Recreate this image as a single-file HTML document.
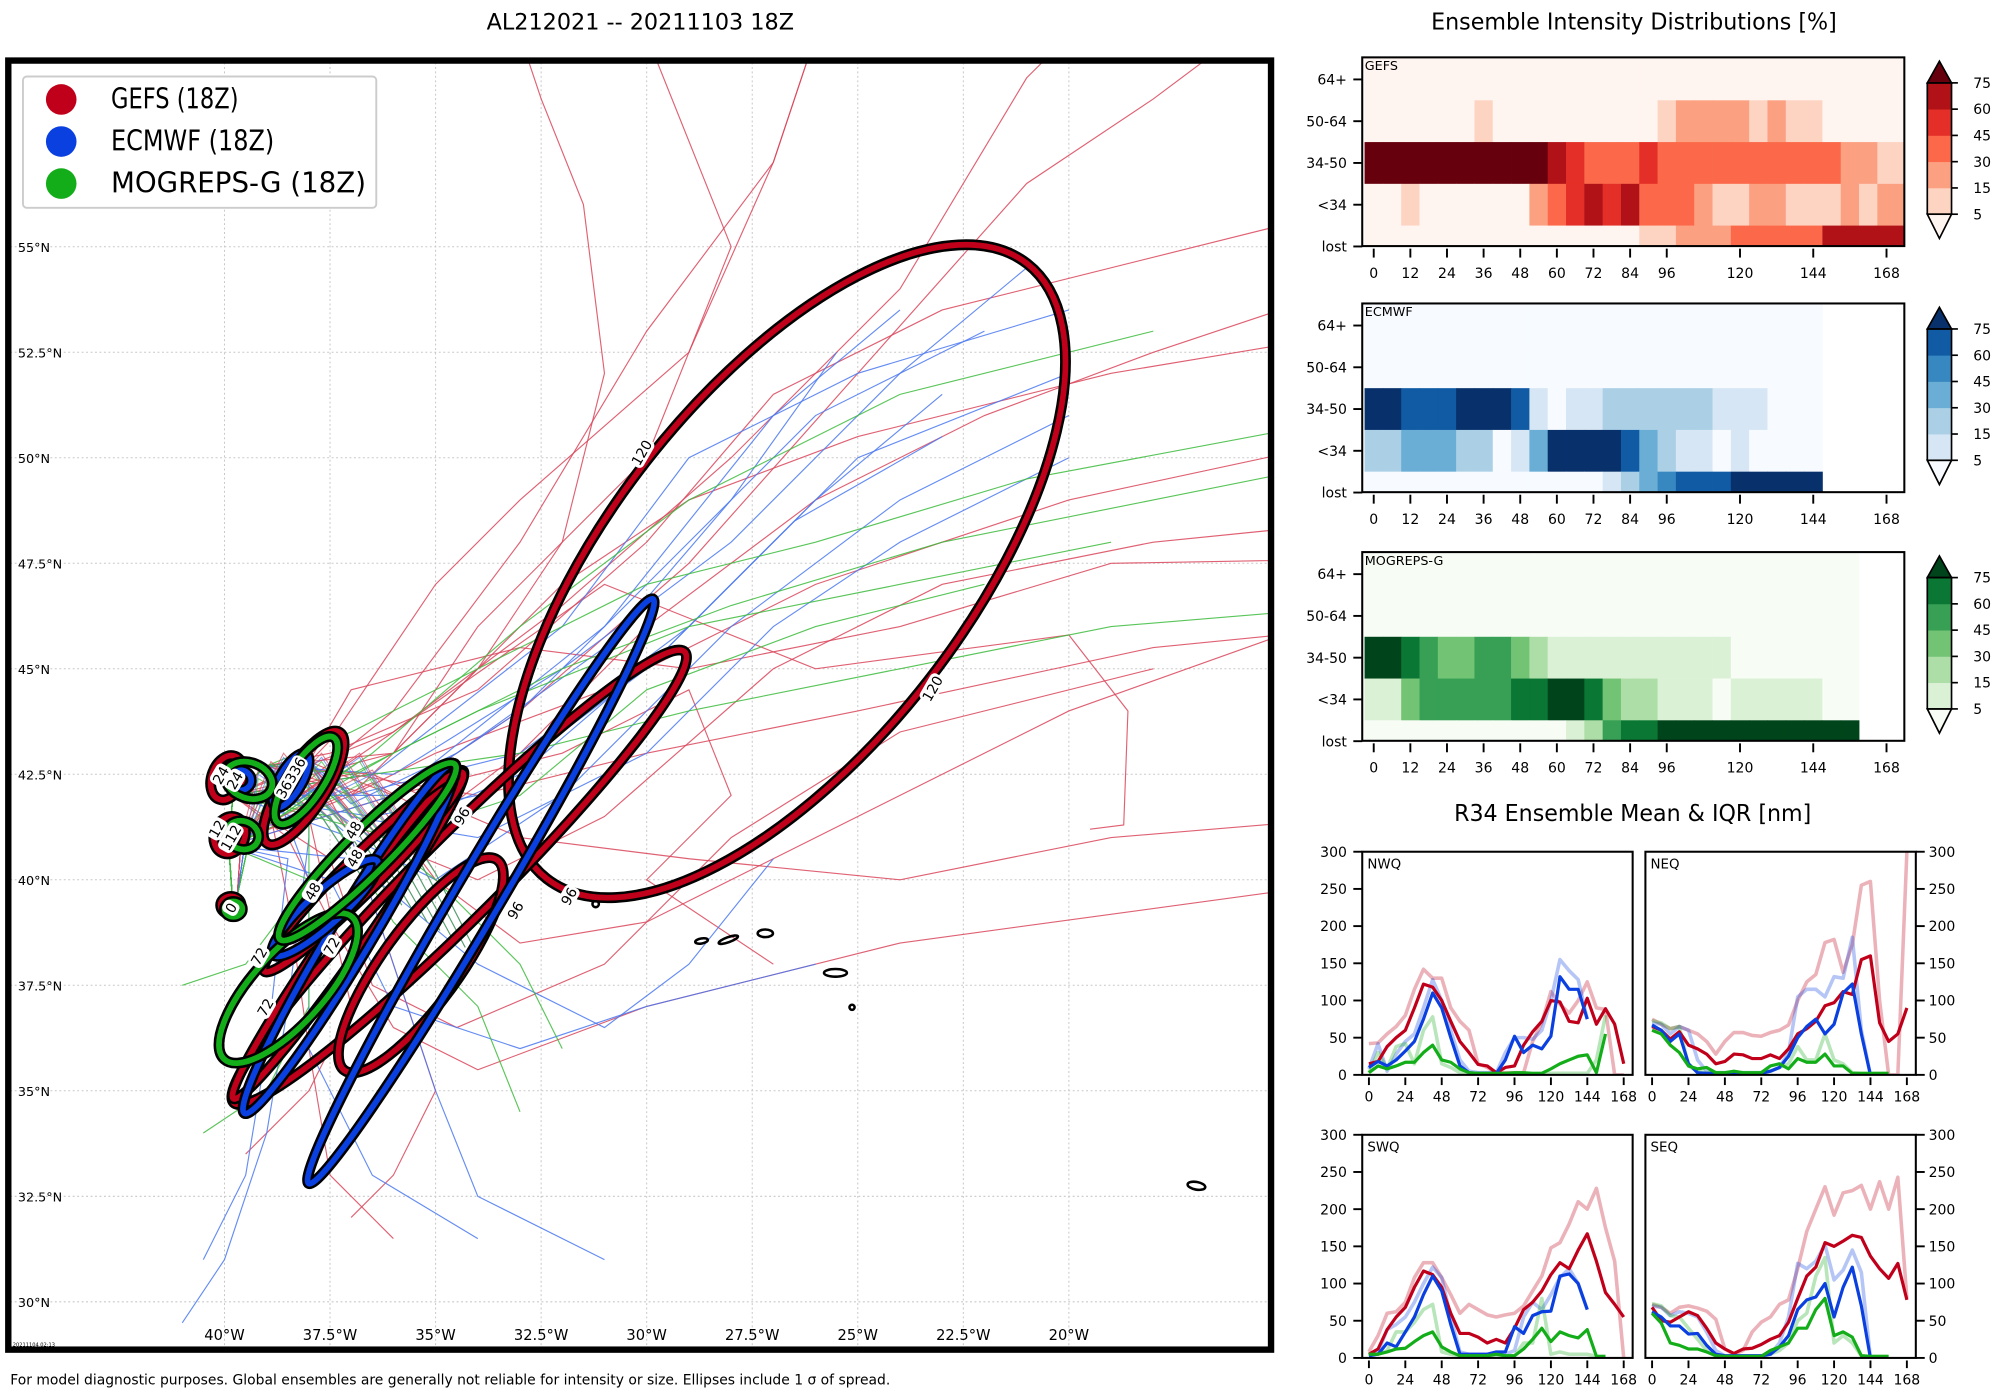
<!DOCTYPE html>
<html><head><meta charset="utf-8">
<style>
html,body{margin:0;padding:0;background:#fff;}
svg{display:block;font-family:"DejaVu Sans","Liberation Sans",sans-serif;}
</style></head>
<body>
<svg id="root" width="2000" height="1400" viewBox="0 0 1568 1098" preserveAspectRatio="none" xmlns="http://www.w3.org/2000/svg">
<defs><clipPath id="mapclip"><rect x="8" y="49" width="987" height="1008"/></clipPath></defs>
<rect x="0" y="0" width="1568" height="1098" fill="#fff"/>
<text x="502" y="23" font-size="17.5" text-anchor="middle" textLength="241" lengthAdjust="spacingAndGlyphs">AL212021 -- 20211103 18Z</text>
<text x="1281" y="23" font-size="18" text-anchor="middle" textLength="318" lengthAdjust="spacingAndGlyphs">Ensemble Intensity Distributions [%]</text>
<text x="1280" y="644" font-size="18" text-anchor="middle" textLength="280" lengthAdjust="spacingAndGlyphs">R34 Ensemble Mean &amp; IQR [nm]</text>
<text x="8" y="1086" font-size="11" textLength="690" lengthAdjust="spacingAndGlyphs">For model diagnostic purposes. Global ensembles are generally not reliable for intensity or size. Ellipses include 1 σ of spread.</text>
<g id="map"></g>
<g id="heat"></g>
<g id="r34"></g>
</svg>
<script>
const NS='http://www.w3.org/2000/svg';
function mk(tag,attrs,parent,txt){const e=document.createElementNS(NS,tag);for(const k in attrs)e.setAttribute(k,attrs[k]);if(txt!==undefined)e.textContent=txt;parent.appendChild(e);return e;}

/* ---------------- MAP DATA ---------------- */
const latTicks=[55,52.5,50,47.5,45,42.5,40,37.5,35,32.5,30];
const lonTicks=[-40,-37.5,-35,-32.5,-30,-27.5,-25,-22.5,-20];
const trackStart=[[-39.8,39.4],[-39.9,40.8],[-39.8,42.0],[-39.0,42.7],[-38.0,42.8]];
const gefsTracks=[
[[-36.5,42.3],[-35,41.5],[-33,43],[-30,46],[-26,49],[-22,51],[-18,52.5],[-15,53.5],[-13,54]],
[[-36,43],[-34,45],[-32,48],[-31,52],[-31.5,56],[-32.5,58.5],[-33,60]],
[[-36.5,42],[-35,40],[-33,38.5],[-30,39],[-26,41],[-20,44],[-13,46.5]],
[[-37,41],[-36,38],[-35,35],[-36,33],[-37,32]],
[[-36,42],[-33,44],[-29,47.5],[-25,52],[-21,56.5],[-18,58.5],[-16,60]],
[[-36,43.5],[-32,46.5],[-28,50],[-24,54],[-21,59],[-20,60]],
[[-37,42],[-35,43],[-31,44.5],[-26,47],[-20,49],[-13,50.5]],
[[-36.5,41],[-34,40],[-31,41.5],[-27,45],[-23,47],[-18,48],[-13,48.5]],
[[-37.5,43.3],[-35,47],[-33,49],[-29,52.5],[-27,57],[-26,60]],
[[-37,42.5],[-34,42],[-30,43],[-25,44],[-18,45.5],[-13,46]],
[[-38,41.5],[-37,37],[-38,35],[-39.5,33.5]],
[[-36,42],[-32,43],[-29,44.5],[-28,42],[-30,40],[-27,38]],
[[-36,44],[-33,48],[-30,53],[-27,57],[-26,60]],
[[-38,42.8],[-37,44.5],[-33,45.5],[-29,45],[-24,46],[-19,47.5],[-13,47.6]],
[[-36.5,42.5],[-33,41],[-29,40.5],[-24,40],[-19,41],[-13,41.5]],
[[-36,43],[-34,46],[-30,50],[-28,55],[-30,60]],
[[-36,43.5],[-31,47],[-26,45],[-20,45.8],[-18.6,44],[-18.7,41.3],[-19.5,41.2]],
[[-38.5,41],[-37.5,39],[-36,36.5],[-34,35.5],[-30,37],[-24,38.5],[-13,40]],
[[-37.5,43],[-34,44.5],[-30,48],[-27,51.5],[-23,53.5],[-17,55],[-13,56]],
[[-39,42],[-38.5,39.5],[-38,36],[-37.5,33],[-36,31.5]],
[[-37,42],[-35,44],[-32,47],[-29,49],[-25,50.5],[-19,52],[-13,53]],
[[-37.5,40.5],[-36.5,37.5],[-34.5,36.5],[-31,38],[-28,41],[-24,43.5],[-18,45]]
];
const ecmwfTracks=[
[[-36,42],[-33,44],[-30,47],[-26,51],[-22,53]],
[[-36.5,41.5],[-34,42],[-30,45],[-26,49],[-23,51.5]],
[[-37,41],[-35,40],[-32,42],[-28,46],[-24,49],[-20,51]],
[[-38,41],[-38.5,37],[-39,34],[-40,31],[-41,29.5]],
[[-38.5,40.5],[-39,36],[-39.5,33],[-40.5,31]],
[[-37,41],[-36,38],[-35,35],[-34,32.5],[-31,31]],
[[-36,42.5],[-32,45],[-28,48],[-24,52],[-21,54.5]],
[[-37,41.5],[-34,41],[-30,43],[-27,46],[-24,48],[-20,50]],
[[-37.5,40],[-36,37],[-33,36],[-30,37],[-26,38]],
[[-36,42],[-31,46],[-27,51],[-24,53.5]],
[[-38,40],[-38,36],[-36.5,33],[-34,31.5]],
[[-37,42],[-33,43],[-29,46],[-25,50],[-20,52]],
[[-37,40.5],[-34,38],[-31,36.5],[-29,38],[-27,40.5]],
[[-36.5,42.5],[-32,46],[-29,50],[-25,52],[-20,53.5]],
[[-36.5,41],[-33,42.5],[-29.5,45.5],[-26.5,48.5],[-23,50.5]],
[[-37,41.8],[-34.5,43],[-31,45.5],[-28,49],[-25.5,52.5]]
];
const mogrepsTracks=[
[[-36,43],[-32,45],[-28,46.5],[-23,48],[-18,49],[-13,50]],
[[-36.5,42.5],[-33,43],[-29,44],[-24,45],[-19,46],[-13,46.5]],
[[-37,43.5],[-34,45],[-30,47],[-26,48],[-21,49.5],[-13,51]],
[[-37.5,42],[-35,40],[-33,38],[-32,36]],
[[-38,40],[-39.5,38],[-41,37.5]],
[[-36,41],[-33,42],[-30,44.5],[-26,46],[-22,47]],
[[-37,42.5],[-34,44],[-29,46],[-24,47],[-19,48]],
[[-38,41],[-38,37],[-39,35],[-40.5,34]],
[[-36.5,43],[-33,46],[-29,49],[-24,51.5],[-18,53]],
[[-37.5,41.5],[-36,39],[-34,37],[-33,34.5]]
];
/* ellipses: centre x,y (display px), semi-axes, rotation deg */
const ellipseModels=['gefs','gefs','gefs','gefs','gefs','gefs','gefs','gefs','gefs','ecmwf','ecmwf','ecmwf','ecmwf','ecmwf','mogreps','mogreps','mogreps','mogreps','mogreps','mogreps'];
const ellipseCx=[617,360,273,330,285,238,178,180,181,377,274,255,228,188,226,288,240,195,190,183];
const ellipseCy=[448,688,733,757,684,618,610,655,710,699,736,712,612,612,775,668,612,612,655,713];
const ellipseRx=[306,250,157,102,110,52,18,15,8,266,160,55,24,9,75,97,40,14,11,7];
const ellipseRy=[140,32,14,30,14,17,12,12,7,18,16,13,9,8,28,17,14,19,13,6];
const ellipseRot=[-52,-45,-55,-54,-45,-57,-70,-70,0,-59.5,-59,-42,-60,0,-48,-45,-57,-70,-70,0];
const ellipseLabels=['120','120','96','96','96','72','72','72','48','48','48','36336','24','24','12','112','0'];
const labelX=[503,731,362,404,446,203,208,260,277,278,245,228,173,184,170,181,181];
const labelY=[355,540,640,714,703,750,790,742,651,673,699,610,608,612,650,657,712];
const modelColor={gefs:'#c0001a',ecmwf:'#0a3fe0',mogreps:'#14ad1a'};
const trackColor={gefs:'#d9455a',ecmwf:'#4a78f0',mogreps:'#3cbb3c'};

function mx(lon){return 176+(lon+40)*33.1;}
function my(lat){return 690-(lat-40)*33.1;}

const map=document.getElementById('map');
latTicks.forEach(v=>{const l=mk('line',{x1:8,x2:995,y1:my(v),y2:my(v),stroke:'#c8c8c8','stroke-width':0.8,'stroke-dasharray':'1.5,2'},map);

const t=mk('text',{x:14,y:my(v)+4,'font-size':10},map,(v%1?v.toFixed(1):v)+'°N');
});
lonTicks.forEach(v=>{const l=mk('line',{x1:mx(v),x2:mx(v),y1:49,y2:1057,stroke:'#c8c8c8','stroke-width':0.8,'stroke-dasharray':'1.5,2'},map);

const t=mk('text',{x:mx(v),y:1051,'font-size':11.5,'text-anchor':'middle'},map,(v%1?(-v).toFixed(1):-v)+'°W');
});
const tg=mk('g',{'clip-path':'url(#mapclip)'},map);

function drawTracks(arr,model){arr.forEach((tr,i)=>{
 const pts=trackStart.slice(0,2+(i%4)).concat(tr).map(p=>mx(p[0]).toFixed(1)+','+my(p[1]).toFixed(1)).join(' ');
 const p=mk('polyline',{points:pts,fill:'none',stroke:trackColor[model],'stroke-width':0.9,opacity:0.85},tg);
 });}
drawTracks(gefsTracks,'gefs');drawTracks(ecmwfTracks,'ecmwf');drawTracks(mogrepsTracks,'mogreps');
const bundleLon=[-39.2,-38.9,-38.6,-38.3,-38.0,-37.7,-37.4,-37.1,-36.8,-36.5];
bundleLon.forEach((lo,i)=>{['gefs','ecmwf','mogreps'].forEach((m,j)=>{
 const pts=[[-39.7,39.6],[-39.6+j*0.1,41],[lo,42.6-j*0.1+(i%3)*0.2],[lo+1.5,41.5-i*0.15],[lo+2.5,40-i*0.2]].map(p=>mx(p[0]).toFixed(1)+','+my(p[1]).toFixed(1)).join(' ');
 const p=mk('polyline',{points:pts,fill:'none',stroke:trackColor[m],'stroke-width':0.8,opacity:0.7},tg);
 });});
[[550,738,5,2,-10],[571,737,8,2,-20],[600,732,6,3,0],[655,763,9,3,0],[668,790,2,2,0],[938,930,7,3,10],[467,709,2.5,2.5,0]].forEach(c=>{
 const e=mk('ellipse',{cx:c[0],cy:c[1],rx:c[2],ry:c[3],transform:`rotate(${c[4]} ${c[0]} ${c[1]})`,fill:'none',stroke:'#000','stroke-width':2},tg);
 });
const eg=mk('g',{'clip-path':'url(#mapclip)'},map);

ellipseCx.forEach((cx,i)=>{const a={cx:cx,cy:ellipseCy[i],rx:ellipseRx[i],ry:ellipseRy[i],transform:`rotate(${ellipseRot[i]} ${cx} ${ellipseCy[i]})`,fill:'none'};
 const b=mk('ellipse',Object.assign({},a,{stroke:'#000','stroke-width':8.5}),eg);
 
 const c=mk('ellipse',Object.assign({},a,{stroke:modelColor[ellipseModels[i]],'stroke-width':4.5}),eg);
 });
ellipseLabels.forEach((s,i)=>{const g=mk('g',{transform:`translate(${labelX[i]} ${labelY[i]}) rotate(-60)`},eg);
 
 const w=s.length*6.5+4;mk('rect',{x:-w/2,y:-6.5,width:w,height:13,rx:4,fill:'#fff'},g);
 mk('text',{x:0,y:4,'font-size':11,'text-anchor':'middle'},g,s);});
const fr=mk('rect',{x:6.5,y:47.5,width:990,height:1011,fill:'none',stroke:'#000','stroke-width':5},map);

const st=mk('text',{x:10,y:1056,'font-size':4},map,'20211104 02:13');

const lg=mk('g',{},map);
mk('rect',{x:18,y:60,width:277,height:103,rx:3,fill:'#fff',stroke:'#ccc','stroke-width':1.5},lg);
[['GEFS (18Z)','gefs',100],['ECMWF (18Z)','ecmwf',128],['MOGREPS-G (18Z)','mogreps',200]].forEach((e,i)=>{
 const g=mk('g',{},lg);
 mk('circle',{cx:48,cy:78+i*33,r:12,fill:modelColor[e[1]]},g);
 mk('text',{x:87,y:85+i*33,'font-size':22,textLength:e[2],lengthAdjust:'spacingAndGlyphs'},g,e[0]);});

/* ---------------- HEATMAP DATA ---------------- */
const heatRows=['64+','50-64','34-50','<34','lost'];
const heatTicks=[0,12,24,36,48,60,72,84,96,120,144,168];
const cbarTicks=[5,15,30,45,60,75];
const gefsHeat=[
[2,2,2,2,2,2,2,2,2,2,2,2,2,2,2,2,2,2,2,2,2,2,2,2,2,2,2,2,2],
[2,2,2,2,2,2,10,2,2,2,2,2,2,2,2,2,10,22,22,22,22,10,22,10,10,2,2,2,2],
[85,85,85,85,85,85,85,85,85,85,68,52,38,38,38,52,38,38,38,38,38,38,38,38,38,38,22,22,10],
[2,2,10,2,2,2,2,2,2,22,38,52,68,52,68,38,38,38,22,10,10,22,22,10,10,10,22,10,22],
[2,2,2,2,2,2,2,2,2,2,2,2,2,2,2,10,10,22,22,22,38,38,38,38,38,68,68,68,68]];
const ecmwfHeat=[
[2,2,2,2,2,2,2,2,2,2,2,2,2,2,2,2,2,2,2,2,2,2,2,2,2],
[2,2,2,2,2,2,2,2,2,2,2,2,2,2,2,2,2,2,2,2,2,2,2,2,2],
[85,85,68,68,68,85,85,85,68,10,2,10,10,22,22,22,22,22,22,10,10,10,2,2,2],
[22,22,38,38,38,22,22,2,10,38,85,85,85,85,68,38,22,10,10,2,10,2,2,2,2],
[2,2,2,2,2,2,2,2,2,2,2,2,2,10,22,38,52,68,68,68,85,85,85,85,85]];
const mogrepsHeat=[
[2,2,2,2,2,2,2,2,2,2,2,2,2,2,2,2,2,2,2,2,2,2,2,2,2,2,2],
[2,2,2,2,2,2,2,2,2,2,2,2,2,2,2,2,2,2,2,2,2,2,2,2,2,2,2],
[85,85,68,52,38,38,52,52,38,22,10,10,10,10,10,10,10,10,10,10,2,2,2,2,2,2,2],
[10,10,38,52,52,52,52,52,68,68,85,85,68,38,22,22,10,10,10,2,10,10,10,10,10,2,2],
[2,2,2,2,2,2,2,2,2,2,2,10,22,52,68,68,85,85,85,85,85,85,85,85,85,85,85]];
const palettes={
 gefs:['#fff5f0','#fdd4c2','#fca082','#fb694a','#e32f27','#b11218','#67000d'],
 ecmwf:['#f7fbff','#d6e6f4','#abd0e6','#6aaed6','#3787c0','#105ba4','#08306b'],
 mogreps:['#f7fcf5','#dbf1d6','#aedea7','#73c375','#37a055','#0b7734','#00441b']};
function lvl(v){const th=[5,15,30,45,60,75];let k=0;while(k<6&&v>=th[k])k++;return k;}
const heat=document.getElementById('heat');
const HX0=1068,HX1=1493;function hx(h){return 1077+h*2.393;}
function drawHeat(name,label,data,top){
 const g=mk('g',{},heat);
 const bot=top+148,rowH=32.75,c0=top+17.3;
 const pal=palettes[name];
 data.forEach((row,r)=>{const cy=c0+r*rowH;const y0=Math.max(top,cy-rowH/2),y1=Math.min(bot,cy+rowH/2);
  row.forEach((v,k)=>{let x0=Math.max(HX0,hx(6*k-3)),x1=hx(6*k+3);if(k==28)x1=HX1;
   const c=mk('rect',{x:x0,y:y0,width:x1-x0+0.3,height:y1-y0+0.3,fill:pal[lvl(v)]},g);
   });
  mk('line',{x1:HX0-7,x2:HX0,y1:cy,y2:cy,stroke:'#000','stroke-width':1.5},g);
  const t=mk('text',{x:HX0-12,y:cy+4,'font-size':11,'text-anchor':'end'},g,heatRows[r]);
  });
 mk('rect',{x:HX0,y:top,width:HX1-HX0,height:148,fill:'none',stroke:'#000','stroke-width':1.6},g);
 const tl=mk('text',{x:HX0+2,y:top+10,'font-size':10},g,label);
 
 heatTicks.forEach(h=>{mk('line',{x1:hx(h),x2:hx(h),y1:bot+2,y2:bot+9,stroke:'#000','stroke-width':1.5},g);
  const t=mk('text',{x:hx(h),y:bot+25,'font-size':11,'text-anchor':'middle'},g,h);
  });
 const cb=mk('g',{},g);
 const cbTop=top+20,seg=20.6,cx0=1511,cx1=1530,cbBot=cbTop+5*seg;
 for(let i=1;i<=5;i++)mk('rect',{x:cx0,y:cbBot-i*seg,width:cx1-cx0,height:seg+0.3,fill:pal[i]},cb);
 mk('polygon',{points:`${cx0},${cbTop} ${cx1},${cbTop} ${(cx0+cx1)/2},${cbTop-17}`,fill:pal[6],stroke:'#000','stroke-width':1.3},cb);
 mk('polygon',{points:`${cx0},${cbBot} ${cx1},${cbBot} ${(cx0+cx1)/2},${cbBot+19}`,fill:pal[0],stroke:'#000','stroke-width':1.3},cb);
 mk('rect',{x:cx0,y:cbTop,width:cx1-cx0,height:5*seg,fill:'none',stroke:'#000','stroke-width':1.3},cb);
 cbarTicks.forEach((v,i)=>{const y=cbBot-i*seg;mk('line',{x1:cx1,x2:cx1+5,y1:y,y2:y,stroke:'#000','stroke-width':1.3},cb);
  const t=mk('text',{x:cx1+17,y:y+4,'font-size':11},cb,v);
  });
}
drawHeat('gefs','GEFS',gefsHeat,45);
drawHeat('ecmwf','ECMWF',ecmwfHeat,238);
drawHeat('mogreps','MOGREPS-G',mogrepsHeat,433);

/* ---------------- R34 DATA ---------------- */
const r34Ticks=[0,50,100,150,200,250,300];
const r34Hours=[0,24,48,72,96,120,144,168];
const nwqGefs=[15,18,38,50,60,90,122,118,100,72,45,30,14,12,3,10,12,40,58,72,100,98,72,70,103,68,89,68,15];
const nwqGefsUp=[42,43,55,65,80,115,142,130,130,90,72,60,15,10,3,3,3,3,45,70,112,95,83,100,125,90,88,0,0];
const nwqEcmwf=[10,18,12,20,32,45,75,110,90,50,12,3,2,2,2,20,52,30,40,35,52,132,115,115,75];
const nwqEcmwfUp=[8,42,5,28,45,55,90,128,100,60,20,5,3,3,3,30,50,50,48,60,100,155,140,128,75];
const nwqMog=[3,12,8,12,17,17,30,40,20,17,8,3,2,2,2,2,3,3,2,2,8,15,20,25,27,3,55];
const nwqMogUp=[3,30,8,38,42,15,60,78,15,10,3,2,2,2,2,2,2,2,2,2,2,2,2,2,2,20,80];
const neqGefs=[65,60,48,58,40,35,28,15,18,28,27,22,22,27,22,35,55,62,72,93,97,112,108,155,160,70,45,55,90];
const neqGefsUp=[75,68,62,65,60,55,45,28,45,57,57,53,52,57,60,67,100,125,135,178,182,138,175,255,260,100,0,0,300];
const neqEcmwf=[67,60,45,55,15,3,2,2,2,2,2,2,2,5,10,25,50,65,75,55,68,110,122,55,0];
const neqEcmwfUp=[70,68,55,65,60,20,5,3,3,3,3,3,3,5,10,30,105,115,115,105,132,130,185,60,0];
const neqMog=[60,55,40,30,12,8,10,3,3,5,3,3,3,12,15,8,22,17,17,28,12,12,2,2,2,2,2];
const neqMogUp=[73,70,62,65,12,5,3,3,3,3,3,3,3,5,10,15,38,20,20,55,20,15,3,2,2,2,2];
const swqGefs=[5,12,38,55,68,95,117,112,95,60,33,33,28,20,25,20,40,65,75,90,112,128,120,145,167,130,88,72,55];
const swqGefsUp=[8,30,60,62,75,108,128,128,108,85,60,72,65,58,55,58,60,70,90,110,148,155,180,210,200,228,175,130,0];
const swqEcmwf=[3,5,20,15,35,55,85,110,90,45,5,5,5,5,8,8,42,33,57,62,63,110,113,100,65];
const swqEcmwfUp=[5,8,38,45,55,75,100,122,108,55,8,5,5,5,5,5,10,55,75,65,85,108,120,100,65];
const swqMog=[5,5,8,12,13,22,30,35,15,8,3,3,3,3,5,3,3,12,25,40,22,35,30,27,38,2,2];
const swqMogUp=[5,5,10,35,35,48,65,72,8,5,3,3,3,3,3,3,3,20,20,80,5,8,5,5,5,2,2];
const seqGefs=[68,50,48,55,62,57,40,20,12,6,12,13,18,25,30,48,80,110,122,155,150,157,165,162,137,120,107,127,78];
const seqGefsUp=[72,68,60,68,70,67,63,52,12,5,10,35,48,55,72,78,120,170,200,230,192,222,225,232,200,237,200,243,80];
const seqEcmwf=[62,55,43,43,32,33,17,5,3,3,3,3,3,5,15,30,65,78,82,100,55,95,122,70,0];
const seqEcmwfUp=[70,68,57,62,60,55,35,10,3,3,3,3,3,5,20,55,127,120,130,152,105,118,145,115,0];
const seqMog=[60,47,20,17,12,12,8,3,2,2,2,2,2,10,15,20,40,40,65,80,30,35,28,3,2,2,2];
const seqMogUp=[73,70,57,55,40,25,10,3,2,2,2,2,2,5,10,20,50,60,110,135,20,30,20,3,2,2,2];

const r34=document.getElementById('r34');
function drawPanel(name,x0,top,right,series){
 const W=212,H=175,bot=top+H;
 const px=h=>x0+(h+4.4)*W/178.3, py=v=>bot-v*H/300;
 const g=mk('g',{},r34);
 const cid='c'+name;const cp=mk('clipPath',{id:cid},g);mk('rect',{x:x0,y:top,width:W,height:H},cp);
 const lg=mk('g',{'clip-path':`url(#${cid})`},g);
 series.forEach(s=>{const pts=s.d.map((v,i)=>px(i*6).toFixed(1)+','+py(v).toFixed(1)).join(' ');
  const p=mk('polyline',{points:pts,fill:'none',stroke:s.c,'stroke-width':s.o<1?2.8:2.5,opacity:s.o,'stroke-linejoin':'round'},lg);
  });
 mk('rect',{x:x0,y:top,width:W,height:H,fill:'none',stroke:'#000','stroke-width':1.6},g);
 const t=mk('text',{x:x0+4,y:top+13,'font-size':10.5},g,name);
 
 r34Ticks.forEach(v=>{const y=py(v);
  if(!right){mk('line',{x1:x0-7,x2:x0,y1:y,y2:y,stroke:'#000','stroke-width':1.5},g);
   const tt=mk('text',{x:x0-12,y:y+4,'font-size':11,'text-anchor':'end'},g,v);}
  else{mk('line',{x1:x0+W,x2:x0+W+7,y1:y,y2:y,stroke:'#000','stroke-width':1.5},g);
   const tt=mk('text',{x:x0+W+10,y:y+4,'font-size':11},g,v);}});
 r34Hours.forEach(h=>{mk('line',{x1:px(h),x2:px(h),y1:bot+2,y2:bot+8,stroke:'#000','stroke-width':1.5},g);
  const tt=mk('text',{x:px(h),y:bot+21,'font-size':11,'text-anchor':'middle'},g,h);});
}
function ser(g,gu,e,eu,m,mu){return [
 {d:gu,c:'#c0001a',o:0.3,n:'gefs-iqr-upper'},{d:eu,c:'#0a3fe0',o:0.3,n:'ecmwf-iqr-upper'},{d:mu,c:'#14ad1a',o:0.3,n:'mogreps-iqr-upper'},
 {d:g,c:'#c0001a',o:1,n:'gefs-mean'},{d:e,c:'#0a3fe0',o:1,n:'ecmwf-mean'},{d:m,c:'#14ad1a',o:1,n:'mogreps-mean'}];}
drawPanel('NWQ',1068,668,false,ser(nwqGefs,nwqGefsUp,nwqEcmwf,nwqEcmwfUp,nwqMog,nwqMogUp));
drawPanel('NEQ',1290,668,true,ser(neqGefs,neqGefsUp,neqEcmwf,neqEcmwfUp,neqMog,neqMogUp));
drawPanel('SWQ',1068,890,false,ser(swqGefs,swqGefsUp,swqEcmwf,swqEcmwfUp,swqMog,swqMogUp));
drawPanel('SEQ',1290,890,true,ser(seqGefs,seqGefsUp,seqEcmwf,seqEcmwfUp,seqMog,seqMogUp));
</script>
</body></html>
